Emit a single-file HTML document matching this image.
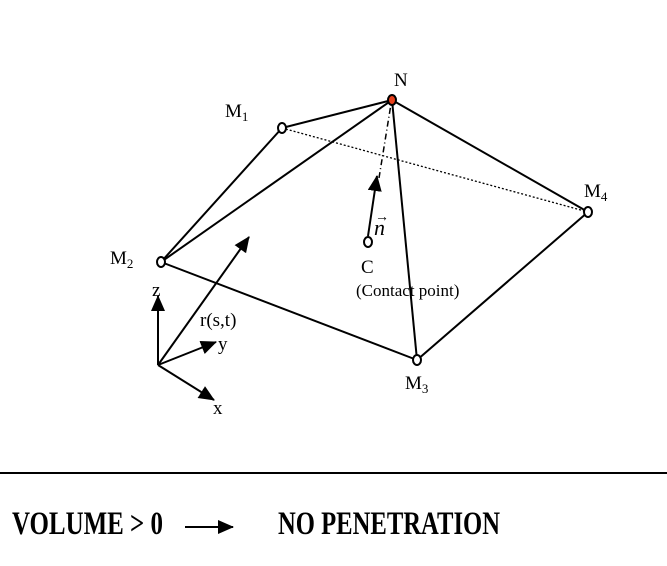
<!DOCTYPE html>
<html><head><style>html,body{margin:0;padding:0;background:#fff}</style></head><body>
<svg width="667" height="561" viewBox="0 0 667 561" xmlns="http://www.w3.org/2000/svg" font-family="Liberation Serif, serif">
<defs>
<marker id="a" markerWidth="16" markerHeight="14" refX="15" refY="7" orient="auto" markerUnits="userSpaceOnUse" viewBox="0 0 16 14"><path d="M0,0 L16,7 L0,14 z" fill="#000"/></marker>
</defs>
<g stroke="#000" stroke-width="2" fill="none">
<line x1="282" y1="128" x2="392" y2="100"/>
<line x1="161" y1="262" x2="282" y2="128"/>
<line x1="161" y1="262" x2="392" y2="100"/>
<line x1="392" y1="100" x2="417" y2="360"/>
<line x1="392" y1="100" x2="588" y2="212"/>
<line x1="161" y1="262" x2="417" y2="360"/>
<line x1="417" y1="360" x2="588" y2="212"/>
<line x1="282" y1="128" x2="588" y2="212" stroke-width="1.3" stroke-dasharray="2,2"/>
<line x1="379" y1="178" x2="391" y2="104" stroke-width="1.5" stroke-dasharray="6,3,1,3"/>
<line x1="368" y1="236" x2="377" y2="176" marker-end="url(#a)"/>
<line x1="158" y1="365" x2="158" y2="296" marker-end="url(#a)"/>
<line x1="158" y1="365" x2="216" y2="342" marker-end="url(#a)"/>
<line x1="158" y1="365" x2="214" y2="400" marker-end="url(#a)"/>
<line x1="158" y1="365" x2="249" y2="237" marker-end="url(#a)"/>
<line x1="0" y1="473" x2="667" y2="473"/>
<line x1="185" y1="527" x2="233" y2="527" marker-end="url(#a)"/>
</g>
<g fill="#fff" stroke="#000" stroke-width="2">
<ellipse cx="282" cy="128" rx="4" ry="5"/>
<ellipse cx="161" cy="262" rx="4" ry="5"/>
<ellipse cx="417" cy="360" rx="4" ry="5"/>
<ellipse cx="588" cy="212" rx="4" ry="5"/>
<ellipse cx="368" cy="242" rx="4" ry="5"/>
<ellipse cx="392" cy="100" rx="4" ry="5" fill="#e8401c"/>
</g>
<g font-size="19" fill="#000">
<text x="394" y="86">N</text>
<text x="225" y="117">M<tspan font-size="13" dy="4">1</tspan></text>
<text x="110" y="264">M<tspan font-size="13" dy="4">2</tspan></text>
<text x="405" y="389">M<tspan font-size="13" dy="4">3</tspan></text>
<text x="584" y="197">M<tspan font-size="13" dy="4">4</tspan></text>
<text x="152" y="296">z</text>
<text x="200" y="326">r(s,t)</text>
<text x="218" y="350">y</text>
<text x="213" y="414">x</text>
<text x="361" y="273">C</text>
<text x="356" y="296" font-size="17">(Contact point)</text>
<text x="374" y="235" font-style="italic" font-size="22">n</text>
<text x="375" y="221" font-size="14">&#8594;</text>
</g>
<g font-size="33" font-weight="bold" fill="#000">
<text x="12" y="534" textLength="151" lengthAdjust="spacingAndGlyphs">VOLUME &gt; 0</text>
<text x="278" y="534" textLength="222" lengthAdjust="spacingAndGlyphs">NO PENETRATION</text>
</g>
</svg>
</body></html>
